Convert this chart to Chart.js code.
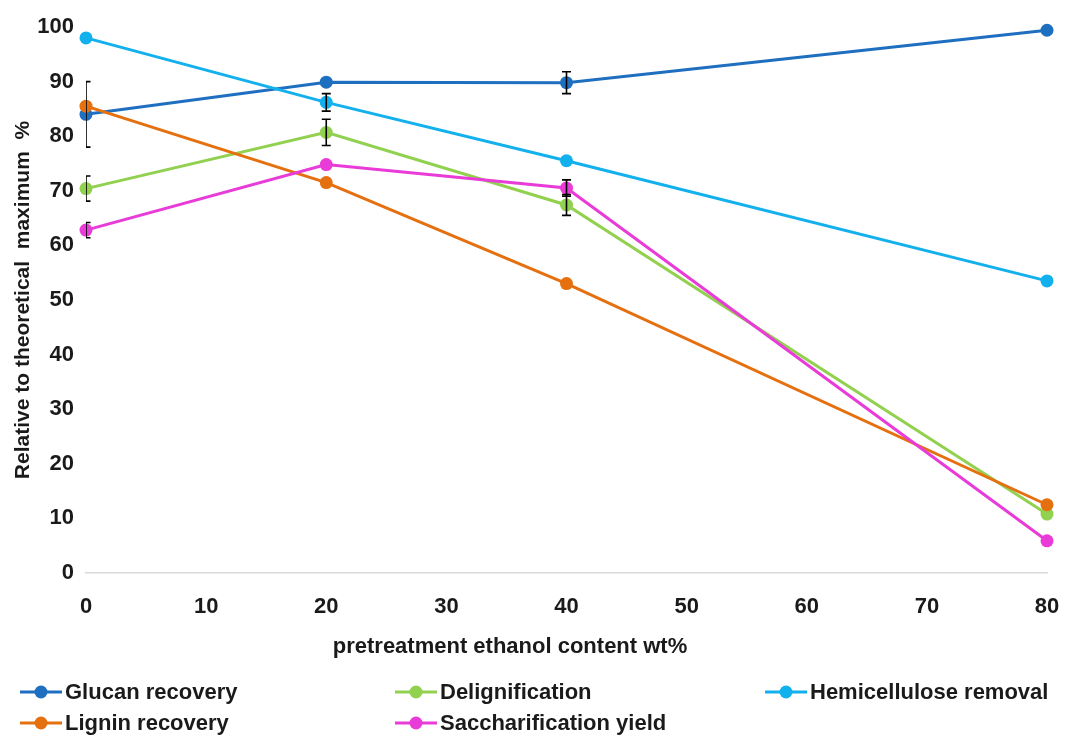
<!DOCTYPE html>
<html>
<head>
<meta charset="utf-8">
<script src="https://cdn.jsdelivr.net/npm/chart.js@4/dist/chart.umd.min.js"></script>
<style>
  html, body { margin: 0; padding: 0; background: #ffffff; }
  canvas { display: block; }
</style>
</head>
<body>
<canvas id="chart" width="1065" height="736"></canvas>
<script>
// Pretreatment ethanol content (wt%) at which samples were taken
const ethanolContent = [0, 20, 40, 80];
const xTickValues = [0, 10, 20, 30, 40, 50, 60, 70, 80];
const yTickValues = [0, 10, 20, 30, 40, 50, 60, 70, 80, 90, 100];

// Responses relative to theoretical maximum (%) and their error half-widths
const glucanRecovery = [84.0, 89.9, 89.8, 99.4];
const glucanErr = [6.0, 0, 2.0, 0];
const delignification = [70.4, 80.7, 67.4, 10.8];
const delignificationErr = [2.3, 2.4, 1.9, 0];
const hemicelluloseRemoval = [98.0, 86.2, 75.5, 53.5];
const hemicelluloseErr = [0, 1.6, 0, 0];
const ligninRecovery = [85.5, 71.5, 53.0, 12.5];
const ligninErr = [0, 0, 0, 0];
const saccharificationYield = [62.8, 74.8, 70.5, 5.9];
const saccharificationErr = [1.4, 0, 1.5, 0];

const seriesNames = ['Glucan recovery', 'Delignification', 'Hemicellulose removal', 'Lignin recovery', 'Saccharification yield'];
const seriesValues = [glucanRecovery, delignification, hemicelluloseRemoval, ligninRecovery, saccharificationYield];
const seriesErrors = [glucanErr, delignificationErr, hemicelluloseErr, ligninErr, saccharificationErr];
const seriesColors = ['#1F6FC1', '#92D050', '#13B0EE', '#E5700F', '#E83BD8'];

const FONT = "'Liberation Sans', Arial, sans-serif";
const TEXT = '#1a1a1a';

const datasets = seriesNames.map((name, i) => ({
  label: name,
  data: ethanolContent.map((x, j) => ({ x: x, y: seriesValues[i][j] })),
  errors: seriesErrors[i],
  borderColor: seriesColors[i],
  backgroundColor: seriesColors[i],
  borderWidth: 3,
  pointRadius: 6.5,
  pointHoverRadius: 6.5,
  pointBorderWidth: 0,
  tension: 0,
  clip: false,
  order: seriesNames.length - i   // later series drawn on top
}));

// Vertical error bars with caps, placed through the chart's scales
const errorBars = {
  id: 'errorBars',
  afterDatasetsDraw(chart) {
    const { ctx, chartArea, scales: { x, y } } = chart;
    ctx.save();
    ctx.beginPath();
    ctx.rect(chartArea.left, chartArea.top - 20, chartArea.right - chartArea.left, chartArea.bottom - chartArea.top + 20);
    ctx.clip();
    ctx.strokeStyle = '#000000';
    ctx.lineWidth = 1.6;
    chart.data.datasets.forEach(ds => {
      ds.data.forEach((p, j) => {
        const e = ds.errors[j];
        if (!e) return;
        const px = x.getPixelForValue(p.x);
        const top = y.getPixelForValue(p.y + e);
        const bot = y.getPixelForValue(p.y - e);
        const cap = 4.5;
        ctx.beginPath();
        ctx.moveTo(px, top); ctx.lineTo(px, bot);
        ctx.moveTo(px - cap, top); ctx.lineTo(px + cap, top);
        ctx.moveTo(px - cap, bot); ctx.lineTo(px + cap, bot);
        ctx.stroke();
      });
    });
    ctx.restore();
  }
};

// X axis title and the three-column legend beneath the plot
const outerText = {
  id: 'outerText',
  afterDraw(chart) {
    const { ctx } = chart;
    ctx.save();
    ctx.fillStyle = TEXT;
    ctx.font = `bold 22px ${FONT}`;
    ctx.textAlign = 'center';
    ctx.textBaseline = 'middle';
    ctx.fillText('pretreatment ethanol content wt%', 510, 647);

    const colX = [20, 395, 765];
    const rowY = [692, 723];
    ctx.textAlign = 'left';
    chart.data.datasets.forEach((ds, i) => {
      const cx = colX[i % 3];
      const cy = rowY[Math.floor(i / 3)];
      ctx.strokeStyle = ds.borderColor;
      ctx.lineWidth = 3;
      ctx.beginPath();
      ctx.moveTo(cx, cy); ctx.lineTo(cx + 42, cy);
      ctx.stroke();
      ctx.fillStyle = ds.backgroundColor;
      ctx.beginPath();
      ctx.arc(cx + 21, cy, 6.5, 0, Math.PI * 2);
      ctx.fill();
      ctx.fillStyle = TEXT;
      ctx.fillText(ds.label, cx + 45, cy + 1);
    });
    ctx.restore();
  }
};

new Chart(document.getElementById('chart'), {
  type: 'line',
  data: { datasets },
  options: {
    responsive: false,
    animation: false,
    events: [],
    layout: { padding: { top: 27, right: 18, bottom: 0, left: 0 } },
    plugins: {
      legend: { display: false },
      tooltip: { enabled: false },
      title: { display: false }
    },
    scales: {
      x: {
        type: 'linear',
        min: 0,
        max: 80,
        afterBuildTicks: s => { s.ticks = xTickValues.map(v => ({ value: v })); },
        afterFit: s => { s.height = 163; s.paddingLeft = 0; s.paddingRight = 0; },
        grid: { display: false, drawTicks: false },
        border: { display: true, color: '#d9d9d9', width: 1.5 },
        ticks: { padding: 21, color: TEXT, font: { family: FONT, size: 22, weight: 'bold' } }
      },
      y: {
        type: 'linear',
        min: 0,
        max: 100,
        afterBuildTicks: s => { s.ticks = yTickValues.map(v => ({ value: v })); },
        afterFit: s => { s.width = 86; s.paddingTop = 0; s.paddingBottom = 0; },
        grid: { display: false, drawTicks: false },
        border: { display: false },
        ticks: { padding: 12, color: TEXT, font: { family: FONT, size: 22, weight: 'bold' } },
        title: {
          display: true,
          text: 'Relative to theoretical  maximum  %',
          color: TEXT,
          padding: { top: 11, bottom: 4 },
          font: { family: FONT, size: 21, weight: 'bold' }
        }
      }
    }
  },
  plugins: [errorBars, outerText]
});
</script>
</body>
</html>
